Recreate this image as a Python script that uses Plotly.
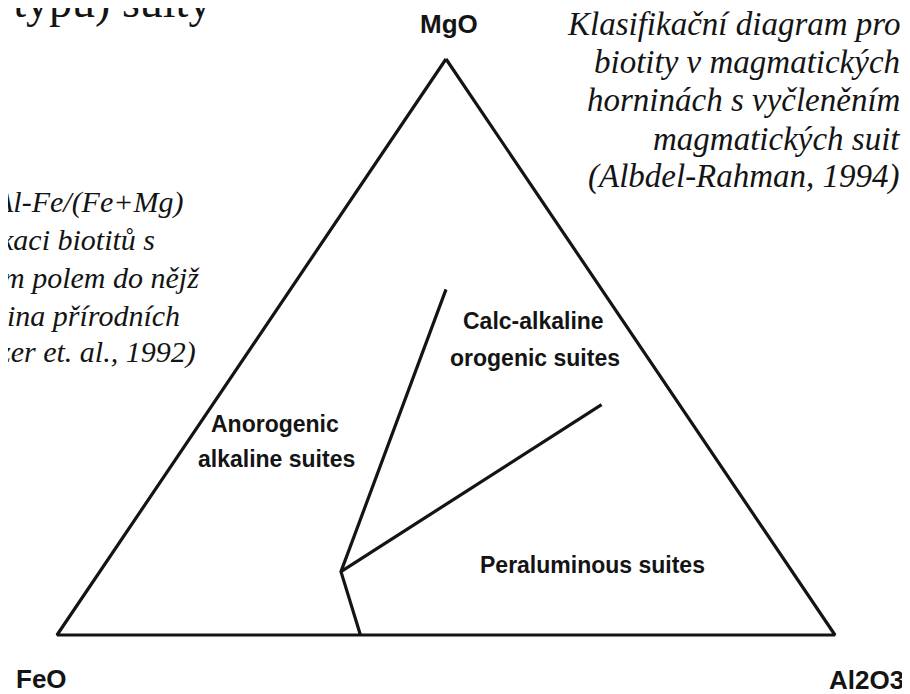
import plotly.graph_objects as go

# ternary compositions (MgO, FeO, Al2O3) of the field boundaries
corner_names = ["MgO", "FeO", "Al2O3"]
outline_mgo = [1.0, 0.0, 0.0, 1.0]
outline_feo = [0.0, 1.0, 0.0, 0.0]
outline_al = [0.0, 0.0, 1.0, 0.0]

# boundary lines: base -> junction, junction -> upper end, junction -> right end
bound_mgo = [0.0, 0.11, 0.60, None, 0.11, 0.40]
bound_feo = [0.61, 0.58, 0.20, None, 0.58, 0.10]
bound_al = [0.39, 0.31, 0.20, None, 0.31, 0.50]

field_lines = ["Calc-alkaline", "orogenic suites", "Anorogenic", "alkaline suites", "Peraluminous suites"]

note_right = ["Klasifikační diagram pro", "biotity v magmatických", "horninách s vyčleněním",
              "magmatických suit", "(Albdel-Rahman, 1994)"]
note_left = ["Al-Fe/(Fe+Mg)", "kaci biotitů s", "m polem do nějž", "ina přírodních", "zer et. al., 1992)"]
heading = "-typu) suity"


def to_xy(mgo, feo, al):
    # composition -> position in a triangle of unit base and unit height
    xs, ys = [], []
    for a, b, c in zip(mgo, feo, al):
        if a is None:
            xs.append(None)
            ys.append(None)
            continue
        s = a + b + c
        xs.append(c / s + 0.5 * a / s)
        ys.append(a / s)
    return xs, ys


# the page body has an 8px margin, so the figure is drawn 8px smaller and shifted
PAD = 8
W, H = 910 - PAD, 694 - PAD
INK = "#141414"
SANS = "Arial, Liberation Sans, sans-serif"
SERIF = "Times New Roman, Liberation Serif, serif"

fig = go.Figure()
ox, oy = to_xy(outline_mgo, outline_feo, outline_al)
fig.add_trace(go.Scatter(x=ox, y=oy, mode="lines", line=dict(color=INK, width=3.2), hoverinfo="skip"))
bx, by = to_xy(bound_mgo, bound_feo, bound_al)
fig.add_trace(go.Scatter(x=bx, y=by, mode="lines", line=dict(color=INK, width=3.2), hoverinfo="skip"))


def px(x, y):
    return dict(x=(x - PAD) / W, y=1 - (y - PAD) / H, xref="paper", yref="paper", showarrow=False)


ann = []
# corner labels
for name, (x, y) in zip(corner_names, [(449, 24), (41, 679), (866, 680)]):
    ann.append(dict(text=name, font=dict(family=SANS, size=26, color=INK, weight="bold"),
                    xanchor="center", yanchor="middle", **px(x, y)))
# field labels
for lab, (x, y) in zip(field_lines, [(533, 321), (535, 358), (275, 424), (276, 459), (592, 565)]):
    ann.append(dict(text=lab, font=dict(family=SANS, size=23, color=INK, weight="bold"),
                    xanchor="center", yanchor="middle", **px(x, y)))
# notes, one annotation per line
for i, line in enumerate(note_right):
    ann.append(dict(text=line, font=dict(family=SERIF, size=33, color=INK, style="italic"),
                    xanchor="right", yanchor="middle", **px(902, 24 + 38.2 * i)))
for line, (x, y) in zip(note_left, [(185, 202), (157, 240), (202, 277), (182, 315), (198, 352)]):
    ann.append(dict(text=line, font=dict(family=SERIF, size=30, color=INK, style="italic"),
                    xanchor="right", yanchor="middle", **px(x, y)))
ann.append(dict(text=heading, font=dict(family=SERIF, size=46, color=INK),
                xanchor="right", yanchor="middle", **px(213, 1)))

fig.update_layout(
    width=W, height=H,
    margin=dict(l=0, r=0, t=0, b=0),
    paper_bgcolor="white", plot_bgcolor="white",
    showlegend=False,
    annotations=ann,
    xaxis=dict(range=[-(57 - PAD) / 778, (910 - 57) / 778], visible=False, fixedrange=True),
    yaxis=dict(range=[-(694 - 635) / 576, 1 + (59 - PAD) / 576], visible=False, fixedrange=True),
)

fig.write_html("out.html")
